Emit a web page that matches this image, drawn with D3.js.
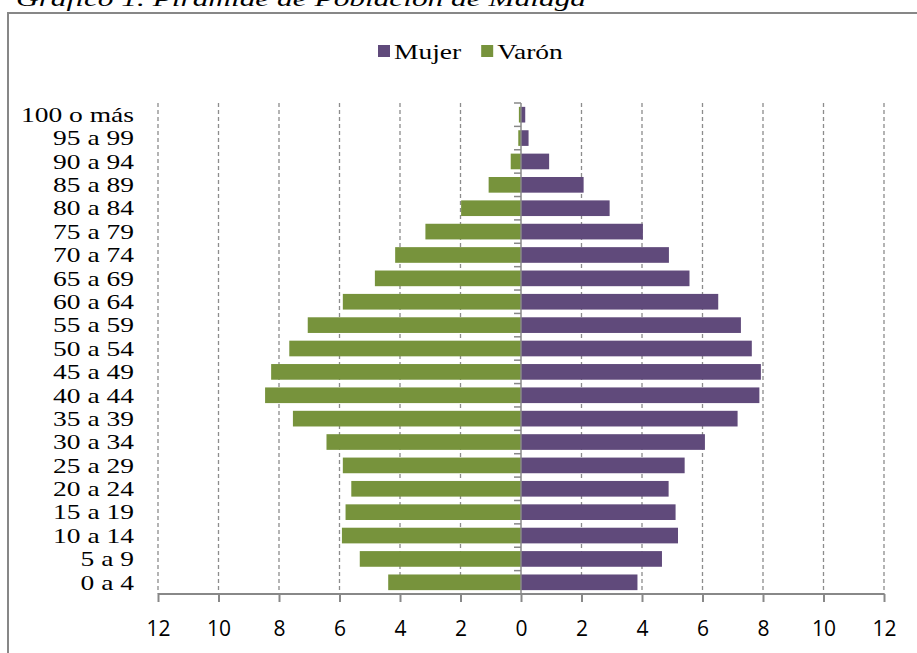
<!DOCTYPE html>
<html>
<head>
<meta charset="utf-8">
<script src="https://cdn.jsdelivr.net/npm/d3@7"></script>
<style>
    body { margin: 0; background: #fff; }
    svg { display: block; }
</style>
</head>
<body>
<svg id="chart" width="917" height="653"></svg>
<script>
// Age groups, top to bottom
const ageGroups = ['100 o más', '95 a 99', '90 a 94', '85 a 89', '80 a 84', '75 a 79', '70 a 74',
    '65 a 69', '60 a 64', '55 a 59', '50 a 54', '45 a 49', '40 a 44', '35 a 39', '30 a 34',
    '25 a 29', '20 a 24', '15 a 19', '10 a 14', '5 a 9', '0 a 4'];

// Percent of population
const mujer = [0.14, 0.25, 0.93, 2.07, 2.93, 4.03, 4.89, 5.57, 6.52, 7.27, 7.63, 7.93, 7.88,
    7.16, 6.08, 5.41, 4.88, 5.11, 5.19, 4.66, 3.85];
const varon = [0.07, 0.09, 0.34, 1.07, 1.98, 3.16, 4.16, 4.83, 5.89, 7.05, 7.66, 8.26, 8.46,
    7.54, 6.43, 5.89, 5.61, 5.80, 5.92, 5.33, 4.39];

const tickValues = [-12, -10, -8, -6, -4, -2, 0, 2, 4, 6, 8, 10, 12];
const legendItems = [{ name: 'Mujer', color: '#604a7b' }, { name: 'Varón', color: '#77933c' }];

const serif = 'Liberation Serif, Times New Roman, serif';
const stretch = 1.25; // the source picture is stretched sideways

const svg = d3.select('#chart');
const plot = { left: 158, right: 884, top: 103, bottom: 594 };

const x = d3.scaleLinear().domain([-12, 12]).range([plot.left, plot.right]);
const y = d3.scaleBand().domain(ageGroups).range([plot.top, plot.bottom]).paddingInner(0.33).paddingOuter(0.165);
const yEdge = d3.scaleBand().domain(ageGroups).range([plot.top, plot.bottom]);

// Chart frame (cropped at right and bottom)
svg.append('path')
    .attr('d', 'M8,660 L8,13 L920,13')
    .attr('fill', 'none')
    .attr('stroke', '#878787')
    .attr('stroke-width', 2);

// Cropped caption above the frame
svg.append('text')
    .attr('transform', `translate(16,6) scale(${stretch},1)`)
    .attr('textLength', 570 / stretch)
    .attr('lengthAdjust', 'spacingAndGlyphs')
    .attr('font-family', serif)
    .attr('font-style', 'italic')
    .attr('font-size', 22)
    .text('Gráfico 1. Pirámide de Población de Málaga');

// Dashed gridlines
svg.append('g')
    .selectAll('line')
    .data(tickValues.filter(d => d !== 0))
    .enter().append('line')
    .attr('x1', d => x(d))
    .attr('x2', d => x(d))
    .attr('y1', plot.top)
    .attr('y2', plot.bottom)
    .attr('stroke', '#8c8c8c')
    .attr('stroke-width', 1.3)
    .attr('stroke-dasharray', '4,3');

// Bars
svg.append('g')
    .selectAll('rect')
    .data(ageGroups)
    .enter().append('rect')
    .attr('x', (d, i) => x(-varon[i]))
    .attr('y', d => y(d))
    .attr('width', (d, i) => x(0) - x(-varon[i]))
    .attr('height', y.bandwidth())
    .attr('fill', '#77933c');

svg.append('g')
    .selectAll('rect')
    .data(ageGroups)
    .enter().append('rect')
    .attr('x', x(0))
    .attr('y', d => y(d))
    .attr('width', (d, i) => x(mujer[i]) - x(0))
    .attr('height', y.bandwidth())
    .attr('fill', '#604a7b');

// Bottom axis
const xAxis = d3.axisBottom(x)
    .tickValues(tickValues)
    .tickSize(8)
    .tickPadding(19)
    .tickFormat(d => Math.abs(d));

const gx = svg.append('g')
    .attr('transform', `translate(0,${plot.bottom})`)
    .call(xAxis);
gx.select('.domain').attr('stroke', '#888').attr('stroke-width', 2).attr('d', `M${plot.left},0H${plot.right}`);
gx.selectAll('.tick line').attr('stroke', '#888').attr('stroke-width', 2);
gx.selectAll('.tick text')
    .attr('fill', '#000')
    .attr('font-family', 'Open Sans, Carlito, Calibri, sans-serif')
    .attr('font-size', 21);

// Central vertical axis with ticks at category edges
svg.append('line')
    .attr('x1', x(0)).attr('x2', x(0))
    .attr('y1', plot.top).attr('y2', plot.bottom)
    .attr('stroke', '#888')
    .attr('stroke-width', 1.5);

svg.append('g')
    .selectAll('line')
    .data(ageGroups)
    .enter().append('line')
    .attr('x1', x(0) - 7)
    .attr('x2', x(0))
    .attr('y1', d => yEdge(d))
    .attr('y2', d => yEdge(d))
    .attr('stroke', '#888')
    .attr('stroke-width', 1.5);

// Category labels
svg.append('g')
    .selectAll('text')
    .data(ageGroups)
    .enter().append('text')
    .attr('transform', d => `translate(134,${yEdge(d) + yEdge.bandwidth() / 2}) scale(${stretch},1)`)
    .attr('dy', '0.33em')
    .attr('text-anchor', 'end')
    .attr('font-family', serif)
    .attr('font-size', 22)
    .text(d => d);

// Legend
const legend = svg.append('g').attr('transform', 'translate(378,45)');
let lx = 0;
legendItems.forEach(item => {
    const g = legend.append('g').attr('transform', `translate(${lx},0)`);
    g.append('rect').attr('width', 12).attr('height', 12).attr('fill', item.color);
    const t = g.append('text')
        .attr('transform', `translate(16,14) scale(${stretch},1)`)
        .attr('font-family', serif)
        .attr('font-size', 22)
        .text(item.name);
    lx += 16 + t.node().getComputedTextLength() * stretch + 20;
});
</script>
</body>
</html>
